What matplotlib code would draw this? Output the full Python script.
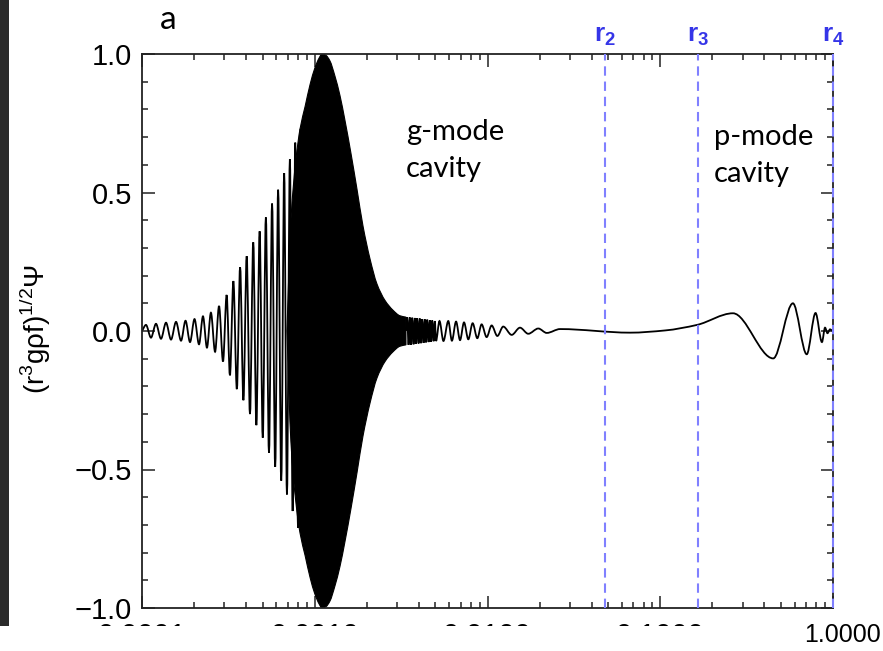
import numpy as np
import matplotlib
matplotlib.use('Agg')
import matplotlib.pyplot as plt
from matplotlib.path import Path
from matplotlib.patches import PathPatch, Rectangle
from matplotlib.ticker import FixedLocator, FixedFormatter, LogLocator, MultipleLocator, NullFormatter

plt.rcParams['mathtext.fontset'] = 'custom'
plt.rcParams['mathtext.rm'] = 'Liberation Sans'
plt.rcParams['mathtext.bf'] = 'Liberation Sans:bold'

# g-mode side, resolvable oscillations: extrema (log10 r, value)
g_logr = [-4.000, -3.977, -3.948, -3.919, -3.890, -3.861, -3.832, -3.803, -3.774, -3.748,
          -3.722, -3.696, -3.670, -3.647, -3.624, -3.601, -3.577, -3.554, -3.531, -3.510,
          -3.491, -3.471, -3.451, -3.432, -3.413, -3.394, -3.375, -3.356, -3.338, -3.319,
          -3.301, -3.283, -3.265, -3.247, -3.229, -3.212, -3.194, -3.177, -3.161, -3.144,
          -3.128, -3.113, -3.097, -3.083]
g_val = [0.0, 0.022, -0.024, 0.026, -0.028, 0.030, -0.031, 0.033, -0.035, 0.037,
         -0.040, 0.043, -0.048, 0.053, -0.060, 0.066, -0.075, 0.090, -0.11, 0.13,
         -0.16, 0.18, -0.21, 0.23, -0.25, 0.27, -0.30, 0.32, -0.34, 0.36,
         -0.385, 0.41, -0.44, 0.46, -0.49, 0.51, -0.54, 0.57, -0.59, 0.62,
         -0.65, 0.68, -0.71, 0.73]

# unresolved (solid black) part: boundary of the filled-in oscillation
env_logr = [-3.161, -3.138, -3.109, -3.085, -3.056, -3.027, -2.999, -2.975, -2.958, -2.935,
            -2.912, -2.883, -2.854, -2.825, -2.790, -2.755, -2.721, -2.680, -2.640, -2.593,
            -2.547, -2.507, -2.472]
env_amp = [0.0, 0.40, 0.62, 0.73, 0.81, 0.89, 0.95, 0.985, 1.0, 0.995,
           0.975, 0.92, 0.85, 0.76, 0.64, 0.51, 0.38, 0.26, 0.17, 0.11,
           0.075, 0.055, 0.05]

# short ringing just outside the envelope
ring_logr = [-2.472, -2.465, -2.457, -2.450, -2.443, -2.436, -2.428, -2.421, -2.414, -2.407,
             -2.399, -2.392, -2.385, -2.378, -2.370, -2.363, -2.356, -2.349, -2.341, -2.334,
             -2.327, -2.320, -2.312, -2.305, -2.298]
ring_val = [0.0, 0.050, -0.050, 0.049, -0.049, 0.048, -0.048, 0.047, -0.046, 0.046,
            -0.045, 0.045, -0.044, 0.043, -0.043, 0.042, -0.041, 0.041, -0.040, 0.039,
            -0.039, 0.038, -0.037, 0.036, -0.036]

# decaying wiggles towards the evanescent zone
tail_logr = [-2.278, -2.255, -2.227, -2.206, -2.182, -2.159, -2.136, -2.111, -2.086, -2.059,
             -2.034, -2.005, -1.976, -1.943, -1.909, -1.860, -1.812, -1.764, -1.706, -1.657,
             -1.580]
tail_val = [0.036, -0.036, 0.036, -0.035, 0.034, -0.033, 0.031, -0.030, 0.028, -0.026,
            0.024, -0.022, 0.020, -0.018, 0.016, -0.014, 0.012, -0.010, 0.009, -0.007,
            0.007]

# p-mode cavity
p_logr = [-1.175, -0.972, -0.787, -0.579, -0.346, -0.232, -0.152, -0.101, -0.064, -0.046,
          -0.032, -0.017, -0.003]
p_val = [-0.006, 0.002, 0.022, 0.064, -0.099, 0.100, -0.084, 0.065, -0.040, 0.012,
         -0.008, 0.006, 0.0]

r_pos = [0.0479, 0.165, 1.0]
r_names = [r'$\mathbf{r}_{\mathbf{2}}$', r'$\mathbf{r}_{\mathbf{3}}$', r'$\mathbf{r}_{\mathbf{4}}$']
xtick_vals = [1e-4, 1e-3, 1e-2, 1e-1, 1.0]
xtick_text = ['0.0001', '0.0010', '0.0100', '0.1000', '']
ytick_vals = [-1.0, -0.5, 0.0, 0.5, 1.0]
ytick_text = ['\u22121.0', '\u22120.5', '0.0', '0.5', '1.0']


def smooth_verts(lx, y):
    # cubic pieces through the read points, flat at the extrema (pchip slopes)
    lx = np.asarray(lx, float)
    y = np.asarray(y, float)
    h = np.diff(lx)
    d = np.diff(y) / h
    m = np.zeros_like(y)
    for k in range(1, len(y) - 1):
        if d[k - 1] * d[k] > 0:
            w1 = 2 * h[k] + h[k - 1]
            w2 = h[k] + 2 * h[k - 1]
            m[k] = (w1 + w2) / (w1 / d[k - 1] + w2 / d[k])
    m[0] = d[0]
    m[-1] = d[-1]
    verts = [(lx[0], y[0])]
    for k in range(len(h)):
        verts.append((lx[k] + h[k] / 3, y[k] + m[k] * h[k] / 3))
        verts.append((lx[k + 1] - h[k] / 3, y[k + 1] - m[k + 1] * h[k] / 3))
        verts.append((lx[k + 1], y[k + 1]))
    verts = np.array(verts)
    verts[:, 0] = 10 ** verts[:, 0]
    return verts


def curve_path(lx, y):
    v = smooth_verts(lx, y)
    codes = [Path.MOVETO] + [Path.CURVE4] * (len(v) - 1)
    return Path(v, codes)


fig = plt.figure(figsize=(8.83, 6.51), dpi=100)
ax = fig.add_axes([142 / 883, 43 / 651, 691 / 883, 554 / 651])
ax.set_xscale('log')
ax.set_xlim(1e-4, 1.0)
ax.set_ylim(-1.0, 1.0)

# solid black part (upper boundary out, lower boundary back)
up = smooth_verts(env_logr, env_amp)
lo = smooth_verts(env_logr, [-a for a in env_amp])[::-1]
fill_v = np.vstack([up, lo, up[:1]])
fill_c = ([Path.MOVETO] + [Path.CURVE4] * (len(up) - 1) + [Path.LINETO] +
          [Path.CURVE4] * (len(lo) - 1) + [Path.CLOSEPOLY])
ax.add_patch(PathPatch(Path(fill_v, fill_c), facecolor='black', edgecolor='black', lw=0.8, zorder=2))

ax.add_patch(PathPatch(curve_path(g_logr, g_val), facecolor='none', edgecolor='black', lw=1.3, zorder=2))
right_lx = ring_logr + tail_logr + p_logr
right_v = ring_val + tail_val + p_val
ax.add_patch(PathPatch(curve_path(right_lx, right_v), facecolor='none', edgecolor='black', lw=1.3, zorder=2))

for rp, nm in zip(r_pos, r_names):
    ax.axvline(rp, color='#8080ff', lw=1.5, ls=(0, (4.5, 2.8)), zorder=3, clip_on=False)
    ax.annotate(nm, xy=(rp, 1.0), xycoords=('data', 'axes fraction'), xytext=(0, 9),
                textcoords='offset points', ha='center', va='baseline', fontsize=19,
                color='#3535e8')

ax.xaxis.set_major_locator(FixedLocator(xtick_vals))
ax.xaxis.set_major_formatter(FixedFormatter(xtick_text))
ax.xaxis.set_minor_locator(LogLocator(base=10, subs=np.arange(2, 10)))
ax.xaxis.set_minor_formatter(NullFormatter())
ax.yaxis.set_major_locator(FixedLocator(ytick_vals))
ax.yaxis.set_major_formatter(FixedFormatter(ytick_text))
ax.yaxis.set_minor_locator(MultipleLocator(0.1))

ax.tick_params(which='both', direction='in', top=True, right=True, color='#222222', width=1.1)
ax.tick_params(which='major', length=9)
ax.tick_params(which='minor', length=4)
ax.tick_params(axis='y', which='major', labelsize=21, pad=7)
ax.tick_params(axis='x', which='major', labelsize=21, pad=10)
for lab in ax.get_xticklabels() + ax.get_yticklabels():
    lab.set_fontfamily('Liberation Sans')
for sp in ax.spines.values():
    sp.set_linewidth(1.3)
    sp.set_color('#222222')

ax.text(0.00337, 0.690, 'g-mode', fontsize=21, family='Lato', va='baseline')
ax.text(0.00337, 0.557, 'cavity', fontsize=21, family='Lato', va='baseline')
ax.text(0.2047, 0.671, 'p-mode', fontsize=21, family='Lato', va='baseline')
ax.text(0.2047, 0.539, 'cavity', fontsize=21, family='Lato', va='baseline')

fig.text(160 / 883, 1 - 29 / 651, 'a', fontsize=24, family='Lato', va='baseline')
fig.text(35 / 883, 1 - 329 / 651, '(r$^3$g\u03c1f)$^{1/2}$\u03a8', rotation=90, ha='center',
         va='center', fontsize=20, family='Liberation Sans')

# left dark strip and the cropped lower edge of the scanned figure
fig.add_artist(Rectangle((0, 25 / 651), 9 / 883, 626 / 651, transform=fig.transFigure,
                         facecolor='#2b2b2b', edgecolor='none', zorder=5))
fig.add_artist(Rectangle((0, 0), 1, 25 / 651, transform=fig.transFigure,
                         facecolor='white', edgecolor='none', zorder=5))
fig.text(881 / 883, 1 - 635 / 651, '1.0000', ha='right', va='center', fontsize=18,
         family='Liberation Sans', zorder=6)

fig.savefig('out.png', dpi=100)
